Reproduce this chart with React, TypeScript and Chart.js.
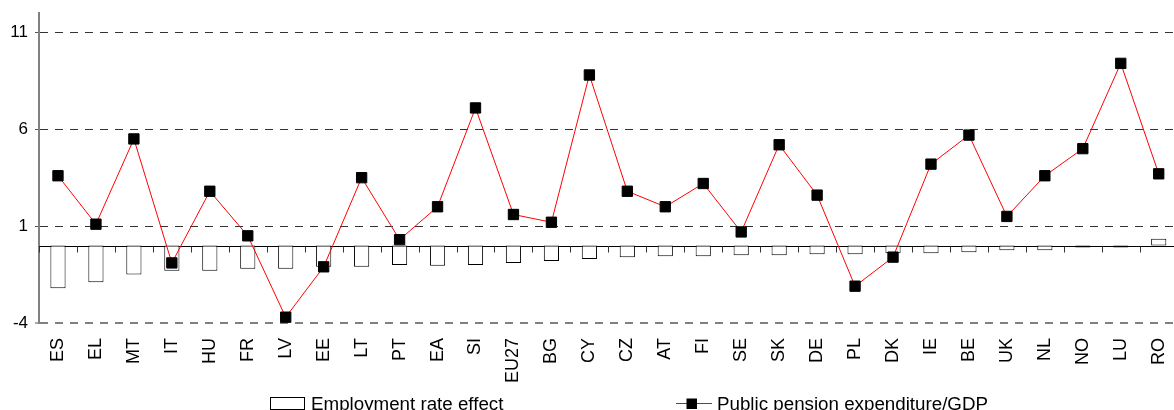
import React, { useEffect, useRef } from "react";
import { Chart, registerables } from "chart.js";

Chart.register(...registerables);

const CATEGORIES = ["ES","EL","MT","IT","HU","FR","LV","EE","LT","PT","EA","SI","EU27","BG","CY","CZ","AT","FI","SE","SK","DE","PL","DK","IE","BE","UK","NL","NO","LU","RO"];
const EMPLOYMENT_EFFECT = [-2.2,-1.9,-1.5,-1.3,-1.3,-1.2,-1.2,-1.1,-1.1,-1.0,-1.05,-1.0,-0.9,-0.8,-0.7,-0.6,-0.55,-0.55,-0.5,-0.5,-0.45,-0.45,-0.4,-0.4,-0.35,-0.25,-0.25,-0.1,-0.1,0.35];
const PENSION_GDP = [3.6,1.1,5.5,-0.9,2.8,0.5,-3.7,-1.1,3.5,0.3,2.0,7.1,1.6,1.2,8.8,2.8,2.0,3.2,0.7,5.2,2.6,-2.1,-0.6,4.2,5.7,1.5,3.6,5.0,9.4,3.7];
const Y_TICKS = [-4, 1, 6, 11];
const Y_MIN = -4;
const Y_MAX = 12;
const SERIES_NAMES = ["Employment rate effect", "Public pension expenditure/GDP"];

const FONT = "'Liberation Sans', Arial, sans-serif";

const zeroLinePlugin = {
  id: "zeroLine",
  beforeDatasetsDraw(chart: any) {
    const { ctx, scales, chartArea } = chart;
    const x = scales.x;
    const y = scales.y;
    const y0 = Math.round(y.getPixelForValue(0)) + 0.5;
    ctx.save();
    ctx.strokeStyle = "#000";
    ctx.lineWidth = 1;
    ctx.beginPath();
    ctx.moveTo(chartArea.left, y0);
    ctx.lineTo(chartArea.right, y0);
    ctx.stroke();
    ctx.strokeStyle = "#333";
    const n = CATEGORIES.length;
    const step = (x.getPixelForValue(1) - x.getPixelForValue(0));
    for (let i = 0; i <= n; i++) {
      const px = Math.round(x.getPixelForValue(i) - step / 2) + 0.5;
      ctx.beginPath();
      ctx.moveTo(px, y0);
      ctx.lineTo(px, y0 + 6);
      ctx.stroke();
    }
    ctx.restore();
  },
};

const legendPlugin = {
  id: "customLegend",
  afterDraw(chart: any) {
    const { ctx } = chart;
    ctx.save();
    ctx.font = `18.75px ${FONT}`;
    ctx.fillStyle = "#000";
    ctx.textBaseline = "alphabetic";
    ctx.textAlign = "left";
    // item 1: bar swatch
    ctx.fillStyle = "#fff";
    ctx.fillRect(270.5, 397.5, 34, 12);
    ctx.strokeStyle = "#000";
    ctx.lineWidth = 1;
    ctx.strokeRect(270.5, 397.5, 34, 12);
    ctx.fillStyle = "#000";
    ctx.fillText(SERIES_NAMES[0], 311, 409.5);
    // item 2: line with marker
    ctx.strokeStyle = "#ff0000";
    ctx.beginPath();
    ctx.moveTo(676, 403.5);
    ctx.lineTo(712, 403.5);
    ctx.stroke();
    ctx.fillStyle = "#000";
    ctx.fillRect(686.5, 398.5, 10.5, 10.5);
    ctx.fillText(SERIES_NAMES[1], 717, 409.5);
    ctx.restore();
  },
};

export default function App() {
  const ref = useRef<HTMLCanvasElement | null>(null);
  useEffect(() => {
    document.body.style.margin = "0";
    const canvas = ref.current;
    if (!canvas) return;
    const chart = new Chart(canvas, {
      type: "bar",
      data: {
        labels: CATEGORIES,
        datasets: [
          {
            type: "bar",
            label: SERIES_NAMES[0],
            data: EMPLOYMENT_EFFECT,
            backgroundColor: "#ffffff",
            borderColor: "#000000",
            borderWidth: 1,
            borderSkipped: false,
            barPercentage: 0.4,
            categoryPercentage: 1,
            order: 2,
          } as any,
          {
            type: "line",
            label: SERIES_NAMES[1],
            data: PENSION_GDP,
            borderColor: "#ff0000",
            borderWidth: 1,
            pointStyle: "rect",
            pointRadius: 7.3,
            pointBackgroundColor: "#000",
            pointBorderColor: "#000",
            pointBorderWidth: 1,
            tension: 0,
            order: 1,
          } as any,
        ],
      },
      options: {
        animation: false,
        responsive: false,
        events: [],
        layout: { padding: { top: 13, right: 2, left: 0, bottom: 0 } },
        plugins: {
          legend: { display: false },
          tooltip: { enabled: false },
        },
        scales: {
          x: {
            offset: true,
            grid: { display: false, drawTicks: false },
            border: { display: false },
            ticks: {
              autoSkip: false,
              minRotation: 90,
              maxRotation: 90,
              padding: 15,
              color: "#000",
              font: { family: FONT, size: 18 },
            },
            afterFit(scale: any) {
              scale.height = 87;
              scale.paddingLeft = 0;
              scale.paddingRight = 0;
            },
          },
          y: {
            min: Y_MIN,
            max: Y_MAX,
            afterBuildTicks(scale: any) {
              scale.ticks = Y_TICKS.map((v) => ({ value: v }));
            },
            afterFit(scale: any) {
              scale.width = 39;
              scale.paddingTop = 0;
              scale.paddingBottom = 0;
            },
            grid: {
              color: (c: any) => (c.tick && c.tick.value === -4 ? "#808080" : "#333333"),
              lineWidth: (c: any) => (c.tick && c.tick.value === -4 ? 2 : 1),
              drawTicks: true,
              tickLength: 4,
              tickColor: "#555",
              tickWidth: 1,
              tickBorderDash: [],
            },
            border: { display: true, color: "#808080", width: 2, dash: [8, 7] },
            ticks: {
              padding: 7,
              color: "#000",
              font: { family: FONT, size: 17 },
              callback: (v: any) => String(v),
            },
          },
        },
      } as any,
      plugins: [zeroLinePlugin, legendPlugin],
    });
    return () => chart.destroy();
  }, []);
  return (
    <div style={{ position: "absolute", left: 0, top: 0, width: 1174, height: 410, overflow: "hidden" }}>
      <canvas ref={ref} width={1186} height={410} style={{ display: "block" }} />
    </div>
  );
}
